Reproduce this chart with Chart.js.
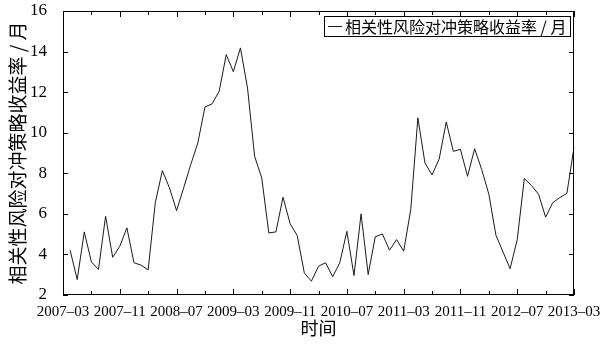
<!DOCTYPE html>
<html>
<head>
<meta charset="utf-8">
<script src="https://cdn.jsdelivr.net/npm/chart.js@4.4.1/dist/chart.umd.min.js"></script>
<style>
  html, body { margin: 0; padding: 0; background: #fff; }
  #wrap { width: 616px; height: 346px; }
</style>
</head>
<body>
<div id="wrap"><canvas id="c" width="616" height="346"></canvas></div>
<script>
// Axis months (2007-03 .. 2013-03)
const axisMonths = [
  '2007-03','2007-04','2007-05','2007-06','2007-07','2007-08','2007-09','2007-10','2007-11','2007-12',
  '2008-01','2008-02','2008-03','2008-04','2008-05','2008-06','2008-07','2008-08','2008-09','2008-10','2008-11','2008-12',
  '2009-01','2009-02','2009-03','2009-04','2009-05','2009-06','2009-07','2009-08','2009-09','2009-10','2009-11','2009-12',
  '2010-01','2010-02','2010-03','2010-04','2010-05','2010-06','2010-07','2010-08','2010-09','2010-10','2010-11','2010-12',
  '2011-01','2011-02','2011-03','2011-04','2011-05','2011-06','2011-07','2011-08','2011-09','2011-10','2011-11','2011-12',
  '2012-01','2012-02','2012-03','2012-04','2012-05','2012-06','2012-07','2012-08','2012-09','2012-10','2012-11','2012-12',
  '2013-01','2013-02','2013-03'
];
// Data months (2007-04 .. 2013-03)
const months = axisMonths.slice(1);
// Monthly return of the correlation risk hedging strategy
const values = [
  4.21, 2.76, 5.11, 3.63, 3.26, 5.88, 3.86, 4.40, 5.31,
  3.59, 3.47, 3.24, 6.54, 8.13, 7.28, 6.16, 7.28, 8.43, 9.50, 11.27, 11.42, 12.04,
  13.85, 13.01, 14.18, 12.20, 8.84, 7.77, 5.06, 5.11, 6.82, 5.52, 4.93, 3.09,
  2.68, 3.42, 3.59, 2.90, 3.59, 5.14, 2.96, 6.00, 3.01, 4.87, 5.01, 4.21,
  4.73, 4.16, 6.21, 10.73, 8.51, 7.92, 8.70, 10.53, 9.08, 9.18, 7.85, 9.21,
  8.18, 6.97, 4.95, 4.12, 3.30, 4.73, 7.74, 7.40, 6.97, 5.84, 6.55, 6.80,
  7.01, 9.28
];
// Labelled x ticks
const tickLabels = ['2007-03','2007-11','2008-07','2009-03','2009-11','2010-07','2011-03','2011-11','2012-07','2013-03'];
const yTicks = [2, 4, 6, 8, 10, 12, 14, 16];

const seriesName = '相关性风险对冲策略收益率 / 月';
const yTitle = '相关性风险对冲策略收益率 / 月';
const xTitle = '时间';

const serif = '"Liberation Serif", "DejaVu Serif", serif';
const cjk = '"Noto Sans CJK SC", "Noto Sans", sans-serif';

const framePlugin = {
  id: 'frame',
  afterDraw(chart) {
    const {ctx, chartArea: a, scales: {x, y}} = chart;
    ctx.save();
    ctx.strokeStyle = '#000';
    ctx.lineWidth = 1;
    ctx.strokeRect(Math.round(a.left) + 0.5, Math.round(a.top) + 0.5,
                   Math.round(a.right - a.left) - 1, Math.round(a.bottom - a.top) - 1);
    ctx.beginPath();
    // x ticks every 4 months, inward on bottom and top
    for (let i = 0; i < axisMonths.length; i += 4) {
      const px = Math.round(x.getPixelForValue(i)) + 0.5;
      const major = tickLabels.includes(axisMonths[i]);
      const len = major ? 6 : 4;
      ctx.moveTo(px, a.bottom); ctx.lineTo(px, a.bottom - len);
      ctx.moveTo(px, a.top); ctx.lineTo(px, a.top + len);
    }
    // y ticks inward on left and right
    yTicks.forEach(v => {
      const py = Math.round(y.getPixelForValue(v)) + 0.5;
      ctx.moveTo(a.left, py); ctx.lineTo(a.left + 5, py);
      ctx.moveTo(a.right, py); ctx.lineTo(a.right - 5, py);
    });
    ctx.stroke();

    // legend box (top right, inside plot area)
    const ds = chart.data.datasets[0];
    ctx.font = '16px ' + cjk;
    const tw = ctx.measureText(ds.label).width;
    const lineLen = 14, gap = 3, padL = 4, padR = 4, h = 20;
    const w = padL + lineLen + gap + tw + padR;
    const bx = Math.round(a.right - 4 - w), by = Math.round(a.top + 5);
    ctx.fillStyle = '#fff';
    ctx.fillRect(bx, by, w, h);
    ctx.strokeStyle = '#000';
    ctx.strokeRect(bx + 0.5, by + 0.5, Math.round(w), h);
    ctx.beginPath();
    ctx.strokeStyle = ds.borderColor;
    ctx.moveTo(bx + padL, by + h / 2 + 0.5);
    ctx.lineTo(bx + padL + lineLen, by + h / 2 + 0.5);
    ctx.stroke();
    ctx.fillStyle = '#000';
    ctx.textBaseline = 'middle';
    ctx.textAlign = 'left';
    ctx.fillText(ds.label, bx + padL + lineLen + gap, by + h / 2 + 1);
    ctx.restore();
  }
};

new Chart(document.getElementById('c'), {
  type: 'line',
  data: {
    labels: axisMonths,
    datasets: [{
      label: seriesName,
      data: months.map((m, i) => ({ x: m, y: values[i] })),
      borderColor: '#1a1a1a',
      borderWidth: 1,
      pointRadius: 0,
      tension: 0,
      fill: false
    }]
  },
  options: {
    responsive: false,
    animation: false,
    events: [],
    layout: { padding: { top: 11, right: 42, left: 0, bottom: 0 } },
    plugins: { legend: { display: false }, tooltip: { enabled: false } },
    scales: {
      x: {
        type: 'category',
        offset: false,
        grid: { display: false },
        border: { display: false },
        afterFit(s) { s.height = 51; s.paddingLeft = 0; s.paddingRight = 0; },
        ticks: {
          autoSkip: false,
          maxRotation: 0,
          minRotation: 0,
          padding: 0,
          color: '#000',
          font: { family: serif, size: 15 },
          callback(value) {
            const lab = this.getLabelForValue(value);
            return tickLabels.includes(lab) ? lab.replace('-', '–') : '';
          }
        },
        title: {
          display: true,
          text: xTitle,
          color: '#000',
          font: { family: cjk, size: 18, lineHeight: 1.2 },
          padding: { top: 0, bottom: 7 }
        }
      },
      y: {
        min: 2,
        max: 16,
        grid: { display: false },
        border: { display: false },
        afterFit(s) { s.width = 63; s.paddingTop = 0; s.paddingBottom = 0; },
        ticks: {
          stepSize: 2,
          padding: 8,
          color: '#000',
          font: { family: serif, size: 17 }
        },
        title: {
          display: true,
          text: yTitle,
          color: '#000',
          font: { family: cjk, size: 19, lineHeight: 1.2 },
          padding: { top: 6, bottom: 0 }
        }
      }
    }
  },
  plugins: [framePlugin]
});
</script>
</body>
</html>
